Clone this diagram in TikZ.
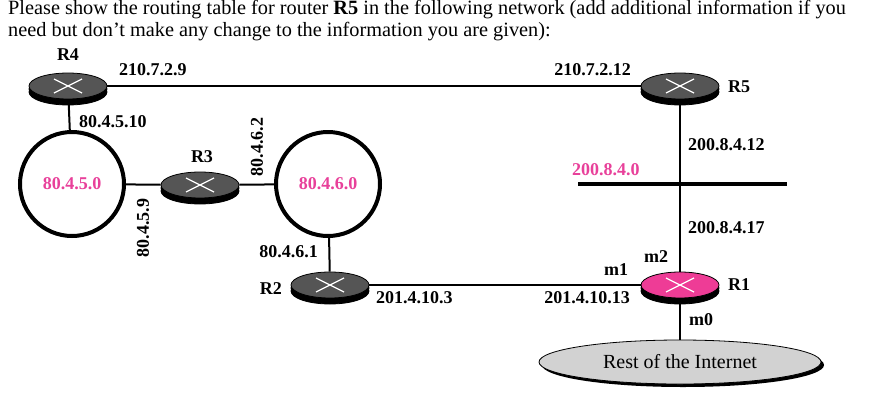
\documentclass[tikz,border=0pt]{standalone}
\usepackage{fontspec}
\setmainfont{Liberation Serif}
\usetikzlibrary{shadows,shapes.geometric,calc}
\definecolor{rdark}{HTML}{555555}
\definecolor{rpink}{HTML}{EE3C96}
\definecolor{lpink}{HTML}{E8409A}
\begin{document}
\begin{tikzpicture}[x=1pt,y=-1pt,
 router/.style={ellipse,draw=black,fill=rdark,minimum width=78pt,minimum height=26pt,inner sep=0pt,line width=0.8pt,
   double copy shadow={shadow xshift=0pt,shadow yshift=-3pt,fill=black,draw=black}},
 lbl/.style={font=\fontsize{18}{20}\selectfont\bfseries,inner sep=1pt},
 net/.style={circle,draw=black,line width=4pt,minimum size=104pt,inner sep=0pt,text=lpink,font=\fontsize{18}{20}\selectfont\bfseries},
 link/.style={line width=2pt}]
\useasboundingbox (0,0) rectangle (878,407);
\node[anchor=north west,align=left,inner sep=0pt,font=\fontsize{20.3}{22}\selectfont] (title) at (8,0)
 {Please show the routing table for router \textbf{R5} in the following network (add additional information if you\\need but don't make any change to the information you are given):};
% networks
\node[net] (n5) at (72,184) {80.4.5.0};
\node[net] (n6) at (328,184) {80.4.6.0};
\node[ellipse,draw=black,fill=gray!35,minimum width=282pt,minimum height=44pt,line width=0.8pt,
  drop shadow={shadow xshift=3pt,shadow yshift=-3pt,fill=black,opacity=1},font=\fontsize{20}{22}\selectfont] (inet) at (680,362) {Rest of the Internet};
\coordinate (e1) at (578,184); \coordinate (e2) at (787,184);
% routers
\foreach \n/\x/\y/\c in {r4/68/86/rdark,r3/200/185/rdark,r2/330/285/rdark,r5/680/86/rdark,r1/680/285/rpink}{
 \node[router,fill=\c] (\n) at (\x,\y) {};
 \draw[white,line width=1.2pt] ($(\n)+(-14,-7)$) -- ($(\n)+(14,7)$) ($(\n)+(-14,7)$) -- ($(\n)+(14,-7)$);
}
% links
\draw[link] (r4) -- (r5);
\draw[link] (r4) -- (n5);
\draw[link] (n5) -- (r3);
\draw[link] (r3) -- (n6);
\draw[link] (n6) -- (r2);
\draw[link] (r2) -- (r1);
\draw[link] (r5) -- (r1);
\draw[link] (r1) -- (inet);
\draw[line width=4pt] (e1) -- (e2);
% labels
\node[lbl] (l1) at (68,55) {R4};
\node[lbl,anchor=west] (l2) at (118,70) {210.7.2.9};
\node[lbl,anchor=east] (l3) at (632,70) {210.7.2.12};
\node[lbl,anchor=west] (l4) at (727,87) {R5};
\node[lbl,anchor=west] (l5) at (78,122) {80.4.5.10};
\node[lbl] (l6) at (202,157) {R3};
\node[lbl,rotate=90] (l7) at (257,147) {80.4.6.2};
\node[lbl,rotate=90] (l8) at (143,228) {80.4.5.9};
\node[lbl,anchor=west] (l9) at (687,145) {200.8.4.12};
\node[lbl,anchor=west,text=lpink] (l10) at (571,170) {200.8.4.0};
\node[lbl,anchor=west] (l11) at (687,228) {200.8.4.17};
\node[lbl,anchor=east] (l12) at (319,252) {80.4.6.1};
\node[lbl,anchor=east] (l13) at (283,289) {R2};
\node[lbl,anchor=west] (l14) at (375,298) {201.4.10.3};
\node[lbl,anchor=east] (l15) at (631,298) {201.4.10.13};
\node[lbl] (l16) at (616,270) {m1};
\node[lbl] (l17) at (656,257) {m2};
\node[lbl,anchor=west] (l18) at (727,285) {R1};
\node[lbl,anchor=west] (l19) at (688,320) {m0};
\end{tikzpicture}
\end{document}
